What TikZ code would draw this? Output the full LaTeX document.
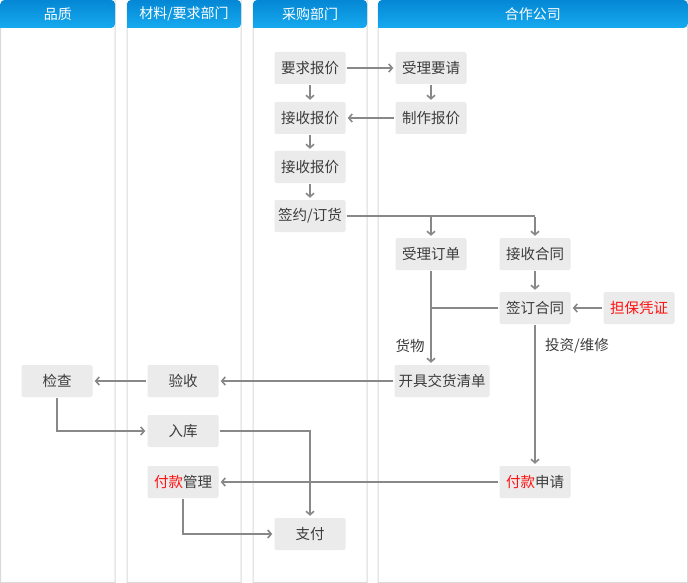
\documentclass[tikz,border=0pt]{standalone}
\usepackage{fontspec}
\newfontfamily\cjk{Noto Sans CJK SC}
\usetikzlibrary{arrows.meta}
\definecolor{boxgray}{HTML}{EBEBEB}
\definecolor{txtgray}{HTML}{3C3C3C}
\definecolor{linegray}{HTML}{888888}
\definecolor{colborder}{HTML}{D9D9D9}
\definecolor{hdtop}{HTML}{0487D4}
\definecolor{hdbot}{HTML}{16AAF0}
\definecolor{hotred}{HTML}{FF1010}
\tikzset{
  stepbox/.style={fill=boxgray, rounded corners=2pt, minimum width=71pt, minimum height=32pt,
    inner sep=0pt, text=txtgray, font=\cjk\fontsize{14.5}{17}\selectfont},
  lane/.style={draw=colborder, line width=1pt, fill=white},
  headtext/.style={text=white, font=\cjk\fontsize{14}{17}\selectfont},
  link/.style={draw=linegray, line width=2pt, shorten <=1pt},
  flow/.style={link, -{Straight Barb[length=3.5pt,width=8pt,line width=1.6pt]}, shorten >=2pt},
  note/.style={text=txtgray, font=\cjk\fontsize{14.5}{17}\selectfont}
}
\begin{document}
\begin{tikzpicture}[x=1pt, y=-1pt]
\useasboundingbox (0,0) rectangle (688,583);

% lanes
\foreach \xa/\xb/\name in {0.5/115/品质, 127/241/{材料/要求部门}, 253/367/采购部门, 378/687.5/合作公司} {
  \path[lane] (\xa,582.5) -- (\xa,4) arc (180:90:4) -- (\xb-4,0.5) arc (90:0:4) -- (\xb,582.5) -- cycle;
  \shade[top color=hdtop, bottom color=hdbot, rounded corners=4pt] (\xa,28) -- (\xa,0) -- (\xb,0) -- (\xb,28) [sharp corners] -- cycle;
  \node[headtext] at ({(\xa+\xb)/2}, 14) {\name};
}

% boxes
\node[stepbox] (yqbj) at (310, 68) {要求报价};
\node[stepbox] (slyq) at (431, 68) {受理要请};
\node[stepbox] (jsbj) at (310, 118) {接收报价};
\node[stepbox] (zzbj) at (431, 118) {制作报价};
\node[stepbox] (jsbb) at (310, 167) {接收报价};
\node[stepbox] (qydh) at (310, 216) {签约/订货};
\node[stepbox] (sldd) at (431, 254) {受理订单};
\node[stepbox] (jsht) at (535, 254) {接收合同};
\node[stepbox] (qdht) at (535, 308) {签订合同};
\node[stepbox] (dbpz) at (639, 308) {\textcolor{hotred}{担保凭证}};
\node[stepbox, minimum width=95pt] (kjqd) at (442, 381) {开具交货清单};
\node[stepbox] (jc) at (57, 381) {检查};
\node[stepbox] (ys) at (183, 381) {验收};
\node[stepbox] (rk) at (183, 431) {入库};
\node[stepbox] (fkgl) at (183, 482) {\textcolor{hotred}{付款}管理};
\node[stepbox] (fksq) at (535, 482) {\textcolor{hotred}{付款}申请};
\node[stepbox] (zf) at (310, 534) {支付};

\node[note] (hw) at (410, 346) {货物};
\node[note] (tzwx) at (577, 346) {投资/维修};

\coordinate (fa) at (sldd |- qydh);
\coordinate (fb) at (jsht |- qydh);

% connectors
\draw[flow] (yqbj) -- (slyq);
\draw[flow] (slyq) -- (zzbj);
\draw[flow] (zzbj) -- (jsbj);
\draw[flow] (yqbj) -- (jsbj);
\draw[flow] (jsbj) -- (jsbb);
\draw[flow] (jsbb) -- (qydh);
\draw[link] (qydh) -- (fb);
\draw[flow] (fa) -- (sldd);
\draw[flow] (fb) -- (jsht);
\draw[flow] (jsht) -- (qdht);
\draw[flow] (dbpz) -- (qdht);
\draw[flow] (sldd) -- (sldd |- kjqd.north);
\draw[link] (qdht) -- (sldd |- qdht);
\draw[flow] (qdht) -- (fksq);
\draw[flow] (kjqd) -- (ys);
\draw[flow] (ys) -- (jc);
\draw[flow] (jc) |- (rk);
\draw[flow] (rk) -| (zf);
\draw[flow] (fksq) -- (fkgl);
\draw[flow] (fkgl) |- (zf);
\end{tikzpicture}
\end{document}
